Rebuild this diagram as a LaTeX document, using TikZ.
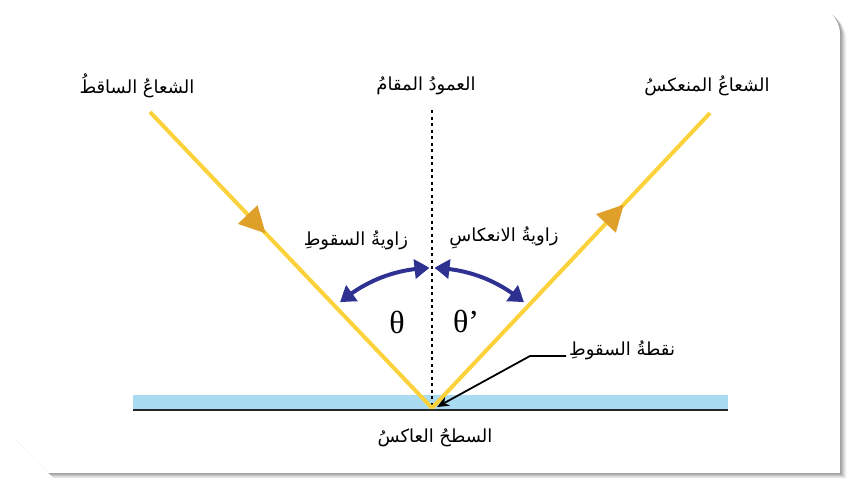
\documentclass[tikz,border=0pt]{standalone}
\usepackage{fontspec}
\usetikzlibrary{arrows.meta,decorations.markings,bending}
\newfontfamily\arabicfont[Script=Arabic]{DejaVu Sans}
\newfontfamily\grkfont{Liberation Serif}
\TeXXeTstate=1
\definecolor{raycol}{HTML}{FCD23C}
\definecolor{raytip}{HTML}{DFA02A}
\definecolor{surfcol}{HTML}{A9DCF2}
\definecolor{arccol}{HTML}{2E3192}
\tikzset{
  lbl/.style={font=\arabicfont\fontsize{18}{20}\selectfont, inner sep=1pt},
  grk/.style={font=\grkfont\fontsize{32}{34}\selectfont, inner sep=1pt},
  ray/.style={draw=raycol, line width=4pt},
  arcarrow/.style={draw=arccol, line width=4pt, {Triangle[length=15pt,width=19pt,bend]}-{Triangle[length=15pt,width=19pt,bend]}},
  leader/.style={draw=black, line width=1.8pt, -{Stealth[length=12pt,width=10pt]}},
  normalline/.style={draw=black, line width=2.6pt, dash pattern=on 3pt off 3.5pt},
  panel/.style={fill=white}
}
\begin{document}
\begin{tikzpicture}[x=1pt,y=-1pt]
\useasboundingbox (0,0) rectangle (853,480);
\fill[white] (0,0) rectangle (853,480);
% shadow
\foreach \i/\o in {1/0.10,2/0.09,3/0.08,4/0.07,5/0.06,6/0.05,7/0.04}{
  \fill[black, opacity=\o] ([shift={(\i*0.9,\i*0.8)}]14,6) -- ++(798,0) arc[start angle=-90, end angle=0, radius=28] -- ([shift={(\i*0.9,\i*0.8)}]840,473) -- ([shift={(\i*0.9,\i*0.8)}]48,473) -- ([shift={(\i*0.9,\i*0.8)}]14,438) -- cycle;
}
\fill[panel] (14,6) -- (812,6) arc[start angle=-90, end angle=0, radius=28] -- (840,473) -- (48,473) -- (14,438) -- cycle;

% coordinates
\coordinate (O) at (432,408);
\coordinate (A) at (150,112);
\coordinate (B) at (710,113);
\coordinate (N) at (432,110);
\coordinate (NB) at (432,406);

% surface
\fill[surfcol] (133,395) rectangle (728,409);
\draw[black!85, line width=2.4pt] (133,410) -- (728,410);

% normal
\draw[normalline] (N) -- (NB);

% rays
\draw[ray, postaction={decorate}, decoration={markings, mark=at position 0.41 with {\arrow{Triangle[length=26pt,width=26pt,color=raytip]}}}] (A) -- (O);
\draw[ray, postaction={decorate}, decoration={markings, mark=at position 0.69 with {\arrow{Triangle[length=26pt,width=26pt,color=raytip]}}}] (O) -- (B);

% angle arcs
\draw[arcarrow] ([shift={(-131:140)}]O) arc[start angle=-131, end angle=-91, radius=140];
\draw[arcarrow] ([shift={(-89:140)}]O) arc[start angle=-89, end angle=-49, radius=140];

% labels
\node[lbl] (inc) at (137,86) {\beginR الشعاعُ الساقطُ\endR};
\node[lbl] (nor) at (426,86) {\beginR العمودُ المقامُ\endR};
\node[lbl] (ref) at (707,86) {\beginR الشعاعُ المنعكسُ\endR};
\node[lbl] (ai) at (356,240) {\beginR زاويةُ السقوطِ\endR};
\node[lbl] (ar) at (504,238) {\beginR زاويةُ الانعكاسِ\endR};
\node[grk] (th1) at (397,322) {θ};
\node[grk] (th2) at (466,321) {θ’};
\node[lbl, anchor=west] (pt) at (568,350) {\beginR نقطةُ السقوطِ\endR};
\node[lbl] (surf) at (435,438) {\beginR السطحُ العاكسُ\endR};

% leader
\coordinate (L0) at (566,356);
\coordinate (L1) at (530,356);
\draw[leader] (L0) -- (L1) -- ([shift={(5,-1)}]O);
\end{tikzpicture}
\end{document}
